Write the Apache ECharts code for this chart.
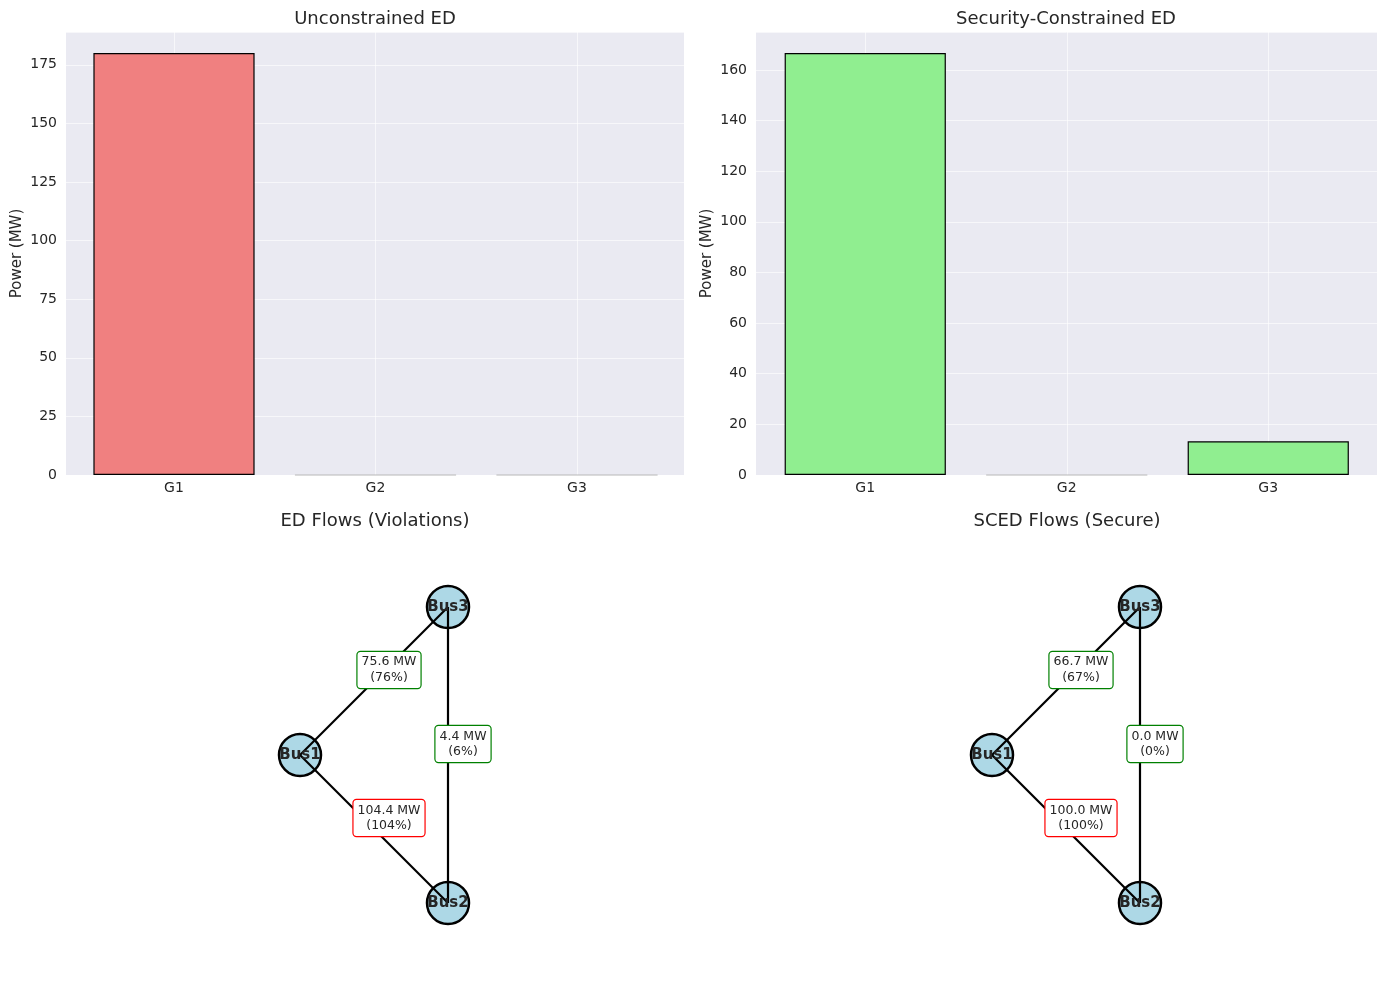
<!DOCTYPE html>
<html>
<head>
<meta charset="utf-8">
<script src="https://cdn.jsdelivr.net/npm/echarts@6/dist/echarts.min.js"></script>
<style>
html,body{margin:0;padding:0;background:#fff;}
#chart{width:1386px;height:987px;}
</style>
</head>
<body>
<div id="chart"></div>
<script>
// ---- data ----
const categories = ['G1', 'G2', 'G3'];
const edPower = [180.0, 0, 0];
const scedPower = [166.7, 0, 13.3];
const busNames = ['Bus1', 'Bus2', 'Bus3'];
const busX = [0, 1, 1];
const busY = [0, -1, 1];
const lineFrom = [0, 0, 2];
const lineTo = [2, 1, 1];
const edFlowMW = [75.6, 104.4, 4.4];
const edFlowPct = [76, 104, 6];
const scedFlowMW = [66.7, 100.0, 0.0];
const scedFlowPct = [67, 100, 0];
const yTicksED = [0, 25, 50, 75, 100, 125, 150, 175];
const yTicksSCED = [0, 20, 40, 60, 80, 100, 120, 140, 160];

const FONT = 'DejaVu Sans';
const TXT = '#262626';
const GRIDLINE = 'rgba(255,255,255,0.6)';
const chart = echarts.init(document.getElementById('chart'), null, {renderer: 'canvas'});

function bgAxisY(gridIndex, max, interval, ticks) {
  return {
    type: 'value', gridIndex, min: 0, max, interval,
    name: 'Power (MW)', nameLocation: 'middle', nameGap: 41,
    nameTextStyle: {fontFamily: FONT, fontSize: 15, color: TXT},
    axisLine: {show: false}, axisTick: {show: false},
    axisLabel: {fontFamily: FONT, fontSize: 14, color: TXT, margin: 9,
      formatter: v => (ticks.indexOf(v) >= 0 ? String(v) : '')},
    splitLine: {show: true, lineStyle: {color: GRIDLINE, width: 1}}
  };
}
function bgAxisX(gridIndex) {
  return {type: 'value', gridIndex, min: 0, max: 1, show: false, splitLine: {show: false}};
}
function barAxisY(gridIndex, max, interval) {
  return {type: 'value', gridIndex, min: 0, max, interval, show: false, splitLine: {show: false}};
}
function barAxisX(gridIndex) {
  return {
    type: 'category', gridIndex, data: categories, boundaryGap: true,
    axisLine: {show: false}, axisTick: {show: false},
    axisLabel: {fontFamily: FONT, fontSize: 14, color: TXT, margin: 6},
    splitLine: {show: false}
  };
}
function vGridSeries(idx) {
  return {
    type: 'line', xAxisIndex: idx, yAxisIndex: idx, data: [null, null, null],
    showSymbol: false, silent: true, z: 0,
    markLine: {
      silent: true, symbol: 'none', z: 1, animation: false,
      label: {show: false},
      lineStyle: {color: GRIDLINE, width: 1, type: 'solid'},
      data: categories.map(c => ({xAxis: c}))
    }
  };
}
function barSeries(idx, values, color) {
  return {
    type: 'bar', xAxisIndex: idx, yAxisIndex: idx, z: 3,
    data: values.map(v => (v === 0 ? {value: v, itemStyle: {borderColor: '#b8b8b8'}} : v)),
    barWidth: '80%',
    itemStyle: {color, borderColor: '#000', borderWidth: 1.2},
    emphasis: {disabled: true}
  };
}

function netAxes(idx, xmin, xmax) {
  return {
    x: {type: 'value', gridIndex: idx, min: xmin, max: xmax, show: false, splitLine: {show: false}},
    y: {type: 'value', gridIndex: idx, min: -1.4189, max: 1.4189, show: false, splitLine: {show: false}}
  };
}
function netSeries(idx, mw, pct) {
  const nodes = busNames.map((n, i) => [busX[i], busY[i], n]);
  const edges = lineFrom.map((f, k) => ({coords: [[busX[f], busY[f]], [busX[lineTo[k]], busY[lineTo[k]]]]}));
  const labels = lineFrom.map((f, k) => ({
    value: [(busX[f] + busX[lineTo[k]]) / 2, (busY[f] + busY[lineTo[k]]) / 2],
    label: {
      formatter: mw[k].toFixed(1) + ' MW\n(' + pct[k] + '%)',
      borderColor: pct[k] >= 100 ? '#ff0000' : '#008000'
    }
  }));
  return [
    {type: 'scatter', xAxisIndex: idx, yAxisIndex: idx, z: 1, data: nodes,
     symbol: 'circle', symbolSize: 42,
     itemStyle: {color: '#ADD8E6', borderColor: '#000', borderWidth: 2.5, opacity: 1},
     emphasis: {disabled: true}, silent: true},
    {type: 'lines', coordinateSystem: 'cartesian2d', xAxisIndex: idx, yAxisIndex: idx, z: 2,
     data: edges, lineStyle: {color: '#000', width: 2.2, opacity: 1}, silent: true},
    {type: 'scatter', xAxisIndex: idx, yAxisIndex: idx, z: 4, data: nodes,
     symbolSize: 0, silent: true, itemStyle: {opacity: 1},
     label: {show: true, position: 'inside', formatter: p => p.value[2],
       fontFamily: FONT, fontWeight: 'bold', fontSize: 15, color: TXT}},
    {type: 'scatter', xAxisIndex: idx, yAxisIndex: idx, z: 5, data: labels,
     symbolSize: 0, silent: true, itemStyle: {opacity: 1},
     label: {show: true, position: 'inside', offset: [15, -11],
       fontFamily: FONT, fontSize: 12.5, color: TXT, lineHeight: 15.5, align: 'center',
       backgroundColor: '#ffffff', borderWidth: 1.2, borderRadius: 3, padding: [3, 4, 2, 4]}}
  ];
}

const nA = netAxes(4, -1.5811, 2.5946);
const nB = netAxes(5, -1.5946, 2.6014);
const titleStyle = {fontFamily: FONT, fontSize: 18, fontWeight: 'normal', color: TXT};

const option = {
  animation: false,
  backgroundColor: '#ffffff',
  title: [
    {text: 'Unconstrained ED', left: 375, top: 10, textAlign: 'center', padding: 0, textStyle: titleStyle},
    {text: 'Security-Constrained ED', left: 1066, top: 10, textAlign: 'center', padding: 0, textStyle: titleStyle},
    {text: 'ED Flows (Violations)', left: 375, top: 512, textAlign: 'center', padding: 0, textStyle: titleStyle},
    {text: 'SCED Flows (Secure)', left: 1067, top: 512, textAlign: 'center', padding: 0, textStyle: titleStyle}
  ],
  grid: [
    {left: 66, width: 618, top: 32, height: 443, show: true, backgroundColor: '#EAEAF2', borderWidth: 0},
    {left: 756, width: 621, top: 32, height: 443, show: true, backgroundColor: '#EAEAF2', borderWidth: 0},
    {left: 73.25, width: 604.5, top: 32, height: 443},
    {left: 764.5, width: 604.5, top: 32, height: 443},
    {left: 66, width: 618, top: 545, height: 420},
    {left: 756, width: 621, top: 545, height: 420}
  ],
  xAxis: [bgAxisX(0), bgAxisX(1), barAxisX(2), barAxisX(3), nA.x, nB.x],
  yAxis: [bgAxisY(0, 189, 25, yTicksED), bgAxisY(1, 175, 20, yTicksSCED),
          barAxisY(2, 189, 25), barAxisY(3, 175, 20), nA.y, nB.y],
  series: [
    vGridSeries(2), vGridSeries(3),
    barSeries(2, edPower, '#F08080'),
    barSeries(3, scedPower, '#90EE90'),
    ...netSeries(4, edFlowMW, edFlowPct),
    ...netSeries(5, scedFlowMW, scedFlowPct)
  ]
};
chart.setOption(option);
</script>
</body>
</html>
